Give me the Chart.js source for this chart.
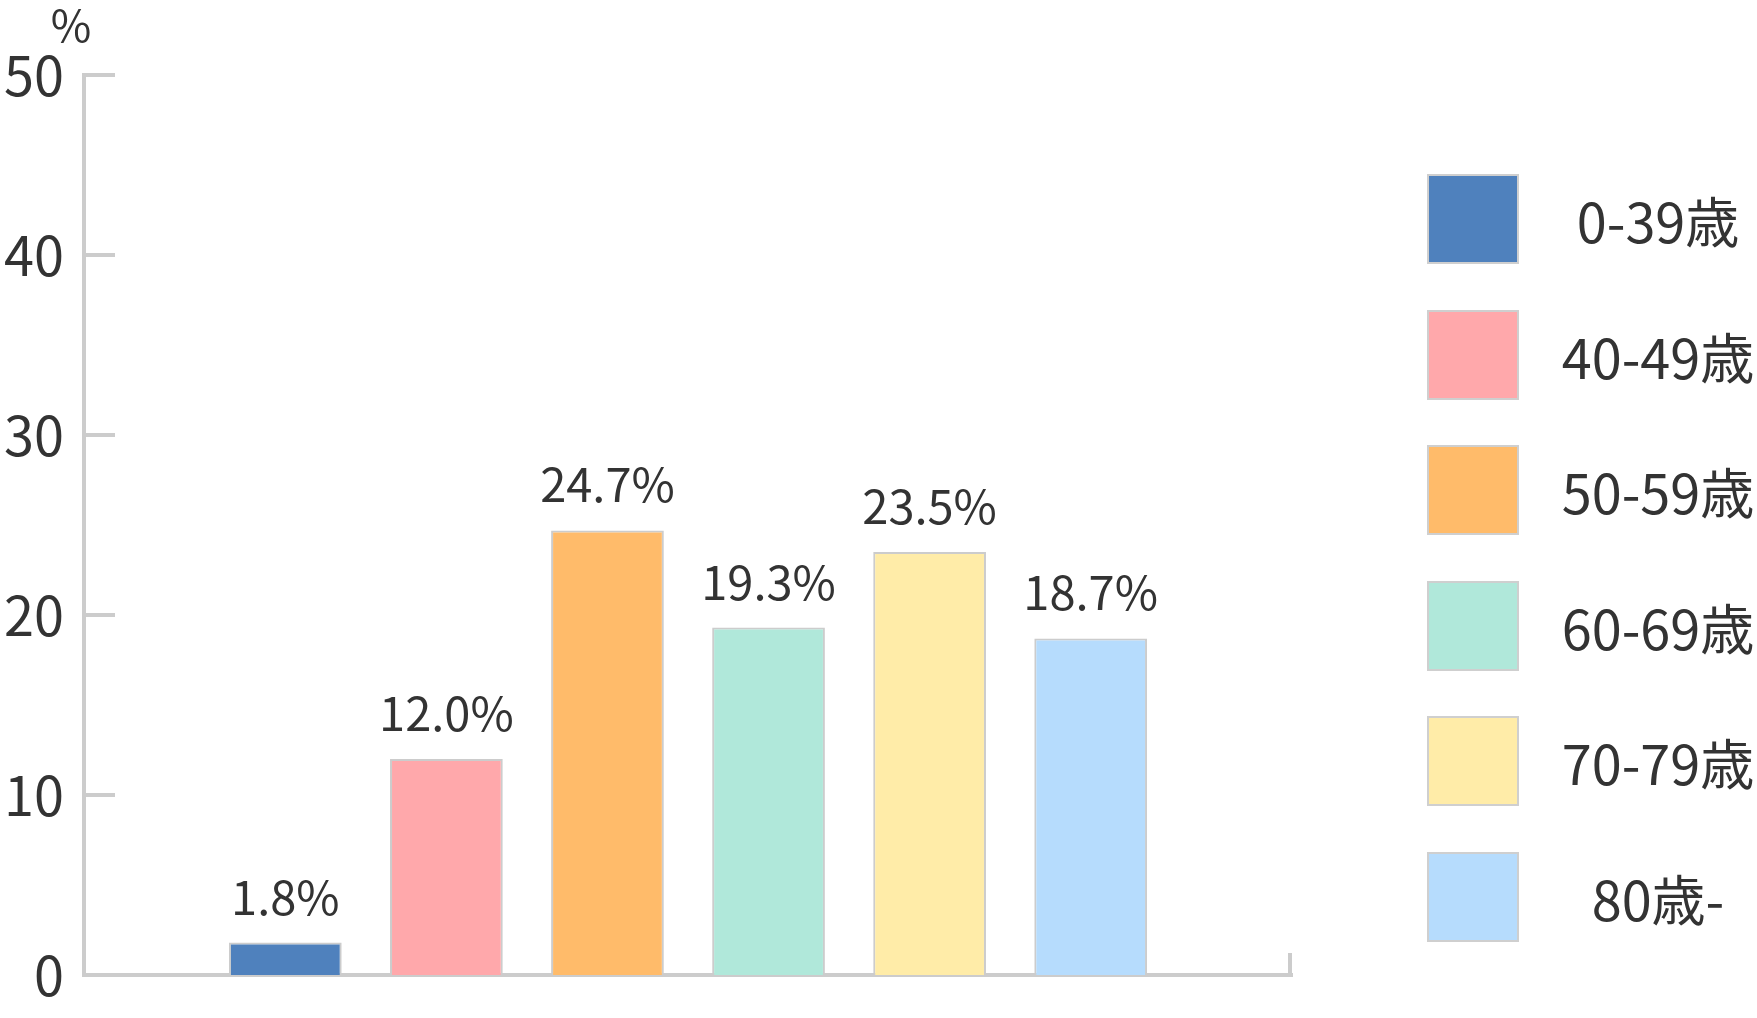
<!DOCTYPE html>
<html lang="ja">
<head>
<meta charset="utf-8">
<title>年齢別割合</title>
<script src="https://cdn.jsdelivr.net/npm/chart.js@4"></script>
<style>
  body { margin: 0; background: #fff; font-family: "Noto Sans CJK JP", sans-serif; }
  #wrap { position: relative; width: 1757px; height: 1018px; }
  #legenda { position: absolute; left: 1427px; top: 174px; }
  .item { position: absolute; left: 0; width: 330px; height: 92px; }
  .caixa { position: absolute; left: 0; top: 0; width: 88px; height: 86px; border: 2px solid #cfcfcf; }
  .rotulo { position: absolute; left: 131px; width: 200px; top: 0; height: 92px; line-height: 92px;
            text-align: center; font-size: 54px; color: #333; }
</style>
</head>
<body>
<div id="wrap">
  <canvas id="grafico"></canvas>
  <div id="legenda"></div>
</div>
<script>
const faixas = ['0-39歳', '40-49歳', '50-59歳', '60-69歳', '70-79歳', '80歳-'];
const valores = [1.8, 12.0, 24.7, 19.3, 23.5, 18.7];
const cores = ['#4f81bd', '#ffa8ab', '#ffbb6a', '#b0e8da', '#ffeca8', '#b6dcfd'];
const ticksY = [0, 10, 20, 30, 40, 50];

// legenda em HTML
const legenda = document.getElementById('legenda');
faixas.forEach((f, i) => {
  const item = document.createElement('div');
  item.className = 'item';
  item.style.top = (i * 135.6) + 'px';
  item.innerHTML = `<div class="caixa" style="background:${cores[i]}"></div><div class="rotulo">${f}</div>`;
  legenda.appendChild(item);
});

const extras = {
  id: 'extras',
  afterDatasetsDraw(chart) {
    const ctx = chart.ctx;
    const area = chart.chartArea;
    const y = chart.scales.y;
    const x = chart.scales.x;
    ctx.save();
    // marcas do eixo y para dentro
    ctx.strokeStyle = '#cccccc';
    ctx.lineWidth = 4;
    ticksY.forEach(t => {
      if (t === 0) return;
      const py = y.getPixelForValue(t);
      ctx.beginPath();
      ctx.moveTo(area.left, py);
      ctx.lineTo(area.left + 31, py);
      ctx.stroke();
    });
    // marca no fim do eixo x
    ctx.beginPath();
    ctx.moveTo(x.right - 2, area.bottom);
    ctx.lineTo(x.right - 2, area.bottom - 22);
    ctx.stroke();

    // valores acima das barras
    ctx.fillStyle = '#333';
    ctx.font = '47px "Noto Sans CJK JP"';
    ctx.textAlign = 'center';
    ctx.textBaseline = 'alphabetic';
    chart.getDatasetMeta(0).data.forEach((bar, i) => {
      ctx.fillText(valores[i].toFixed(1) + '%', bar.x, bar.y - 28);
    });

    // unidade
    ctx.font = '44px "Noto Sans CJK JP"';
    ctx.textBaseline = 'middle';
    ctx.fillText('%', 71, 25);
    ctx.restore();
  }
};

new Chart(document.getElementById('grafico'), {
  type: 'bar',
  data: {
    datasets: [{
      data: valores.map((v, i) => ({ x: i, y: v })),
      backgroundColor: cores,
      borderColor: '#cccccc',
      borderWidth: 2,
      categoryPercentage: 1,
      barPercentage: 0.7
    }]
  },
  options: {
    responsive: true,
    maintainAspectRatio: false,
    animation: false,
    layout: { padding: { top: 75, right: 465, left: 0, bottom: 0 } },
    plugins: { legend: { display: false }, tooltip: { enabled: false } },
    scales: {
      x: {
        type: 'linear',
        offset: false,
        min: -1.25,
        max: 6.25,
        grid: { display: false },
        border: { display: true, color: '#cccccc', width: 4 },
        ticks: { display: false },
        afterFit(s) { s.height = 43; }
      },
      y: {
        min: 0,
        max: 50,
        afterBuildTicks(s) { s.ticks = ticksY.map(v => ({ value: v })); },
        grid: { display: false, drawTicks: false },
        border: { display: true, color: '#cccccc', width: 4 },
        ticks: {
          padding: 20,
          color: '#333',
          font: { family: '"Noto Sans CJK JP"', size: 54 }
        },
        afterFit(s) {
          s.width = 84;
          s.paddingTop = 0;
          s.paddingBottom = 0;
        }
      }
    }
  },
  plugins: [extras]
});
</script>
</body>
</html>
